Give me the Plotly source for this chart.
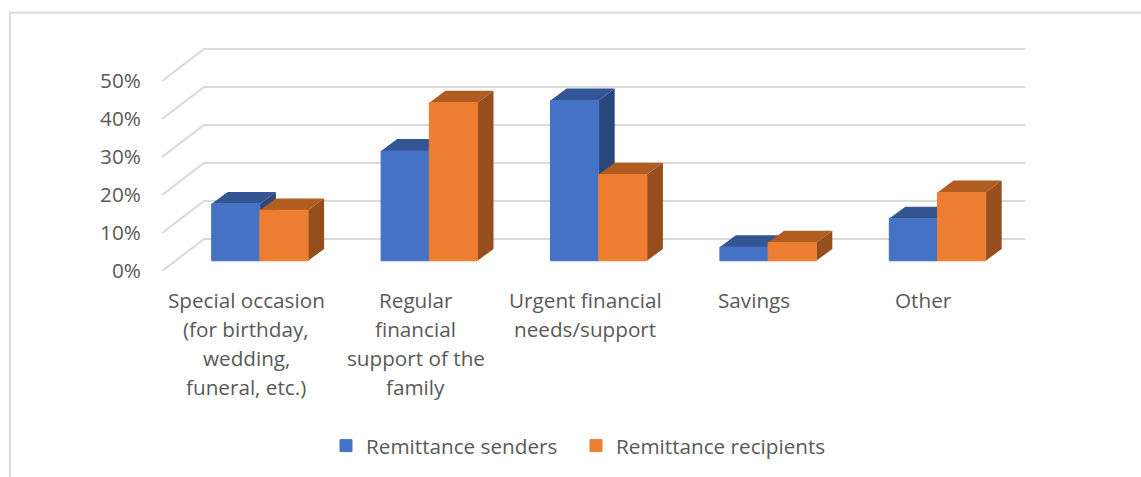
import plotly.graph_objects as go

# Category labels, one entry per printed line
category_lines = [
    ["Special occasion", "(for birthday,", "wedding,", "funeral, etc.)"],
    ["Regular", "financial", "support of the", "family"],
    ["Urgent financial", "needs/support"],
    ["Savings"],
    ["Other"],
]
senders = [15.0, 28.9, 42.2, 3.6, 11.1]
recipients = [13.3, 41.6, 22.7, 4.8, 18.0]
tick_values = [0, 10, 20, 30, 40, 50]
tick_labels = ["0%", "10%", "20%", "30%", "40%", "50%"]

# Pixel geometry of the oblique projection
PLOT_L, PLOT_R, PLOT_T, PLOT_B = 162, 1025, 31, 273.5
FIRST_CENTER, CAT_STEP = 259.9, 169.4
PX_PER_UNIT = 3.84
BAR_W = 48.2 / CAT_STEP
FRONT_LIFT = 10.3 / PX_PER_UNIT     # bar front plane above the axis plane
BAR_DX = 16 / CAT_STEP              # bar depth, horizontally
BAR_DY = 12 / PX_PER_UNIT           # bar depth, vertically
WALL_DX = 42 / CAT_STEP             # full floor depth
WALL_DY = 32.3 / PX_PER_UNIT

x_left = (PLOT_L - FIRST_CENTER) / CAT_STEP
x_right = (PLOT_R - FIRST_CENTER) / CAT_STEP
y_top = (PLOT_B - PLOT_T) / PX_PER_UNIT
positions = list(range(len(category_lines)))

FONT = "Open Sans"
FONT_SIZE = 20.7
TEXT = "#595959"
GRID = "#D9D9D9"


def box_faces(values, left_offset):
    """Return the top and side polygons of each bar, in base-axis units."""
    top_x, top_y, side_x, side_y = [], [], [], []
    for i, v in zip(positions, values):
        x0 = i + left_offset
        x1 = x0 + BAR_W
        y0 = v + FRONT_LIFT
        top_x += [x0, x1, x1 + BAR_DX, x0 + BAR_DX, x0, None]
        top_y += [y0, y0, y0 + BAR_DY, y0 + BAR_DY, y0, None]
        side_x += [x1, x1 + BAR_DX, x1 + BAR_DX, x1, x1, None]
        side_y += [y0, y0 + BAR_DY, FRONT_LIFT + BAR_DY, FRONT_LIFT, y0, None]
    return top_x, top_y, side_x, side_y


def face_trace(xs, ys, color):
    return go.Scatter(x=xs, y=ys, mode="lines", fill="toself", fillcolor=color,
                      line=dict(width=0, color=color), showlegend=False,
                      hoverinfo="skip", xaxis="x", yaxis="y")


fig = go.Figure()

# Back wall gridlines and their diagonals along the side wall
wall_x, wall_y = [], []
for t in tick_values:
    wall_x += [x_left, x_left + WALL_DX, x_right, None]
    wall_y += [t, t + WALL_DY, t + WALL_DY, None]
fig.add_trace(go.Scatter(x=wall_x, y=wall_y, mode="lines",
                         line=dict(color=GRID, width=2), showlegend=False,
                         hoverinfo="skip", xaxis="x", yaxis="y"))

# Depth faces go on the base axes so the front faces can cover them
for values, offset, top_c, side_c in [
    (senders, -BAR_W, "#335593", "#29477C"),
    (recipients, 0, "#B15C20", "#964F1C"),
]:
    tx, ty, sx, sy = box_faces(values, offset)
    fig.add_trace(face_trace(sx, sy, side_c))
    fig.add_trace(face_trace(tx, ty, top_c))

# Front faces, on an overlaying axis whose zero sits on the bar plane
for name, values, offset, color in [
    ("Remittance senders", senders, -BAR_W, "#4472C4"),
    ("Remittance recipients", recipients, 0, "#ED7D31"),
]:
    fig.add_trace(go.Bar(x=positions, y=values, name=name, width=BAR_W, offset=offset,
                         marker=dict(color=color, line=dict(width=1, color=color)),
                         xaxis="x", yaxis="y2"))

# Category labels: one annotation per line for the wide line pitch
annotations = []
for i, lines in zip(positions, category_lines):
    for n, line in enumerate(lines):
        annotations.append(dict(
            x=i, xref="x", y=0, yref="paper", text=line, showarrow=False,
            xshift=-13.7, yshift=-(28.6 + 29 * n), xanchor="center", yanchor="middle",
            font=dict(family=FONT, size=FONT_SIZE, color=TEXT)))

plot_w = PLOT_R - PLOT_L
plot_h = PLOT_B - PLOT_T
frame_left = (10 - PLOT_L) / plot_w
frame_right = (1145 - PLOT_L) / plot_w
frame_top = (PLOT_B - 12.5) / plot_h
frame_bottom = (PLOT_B - 490) / plot_h

fig.update_layout(
    width=1141, height=477, autosize=False,
    margin=dict(l=PLOT_L, r=1141 - PLOT_R, t=PLOT_T, b=477 - PLOT_B, pad=0),
    paper_bgcolor="white", plot_bgcolor="white",
    barmode="overlay",
    font=dict(family=FONT, size=FONT_SIZE, color=TEXT),
    xaxis=dict(range=[x_left, x_right], showgrid=False, zeroline=False,
               showticklabels=False, ticks="", showline=False, fixedrange=True),
    yaxis=dict(range=[0, y_top], tickmode="array", tickvals=tick_values,
               ticktext=tick_labels, showgrid=False, zeroline=False, showline=False,
               ticks="outside", ticklen=16, tickcolor="rgba(0,0,0,0)",
               tickfont=dict(family=FONT, size=FONT_SIZE, color=TEXT), fixedrange=True),
    yaxis2=dict(range=[-FRONT_LIFT, y_top - FRONT_LIFT], overlaying="y", visible=False,
                fixedrange=True),
    legend=dict(orientation="h", xanchor="left", yanchor="middle",
                x=(326 - PLOT_L) / plot_w,
                y=(PLOT_B - 450) / plot_h,
                font=dict(family=FONT, size=FONT_SIZE, color=TEXT),
                entrywidth=205, entrywidthmode="pixels", bgcolor="rgba(0,0,0,0)"),
    annotations=annotations,
    # Chart frame
    shapes=[
        dict(type="path", xref="paper", yref="paper", layer="below",
             path=f"M {frame_left} {frame_bottom} L {frame_left} {frame_top} L {frame_right} {frame_top}",
             line=dict(color=GRID, width=1.8)),
    ],
)

fig.write_html("out.html", config=dict(displayModeBar=False))
